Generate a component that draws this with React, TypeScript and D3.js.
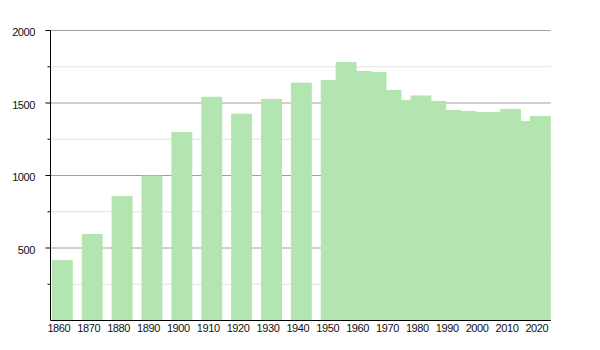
import React from "react";
import * as d3 from "d3";

const years = [1860, 1870, 1880, 1890, 1900, 1910, 1920, 1930, 1940, 1950, 1955, 1960, 1965, 1970, 1975, 1980, 1985, 1990, 1995, 2000, 2005, 2010, 2015, 2020];
const population = [417, 597, 859, 999, 1300, 1543, 1426, 1528, 1640, 1659, 1783, 1721, 1714, 1590, 1521, 1552, 1514, 1452, 1445, 1438, 1438, 1459, 1376, 1410];
const xTickYears = [1860, 1870, 1880, 1890, 1900, 1910, 1920, 1930, 1940, 1950, 1960, 1970, 1980, 1990, 2000, 2010, 2020];
const yMajorTicks = [500, 1000, 1500, 2000];
const yMinorTicks = [250, 750, 1250, 1750];

const W = 600;
const H = 350;
const BAR_HALF = 3.5;

export default function App() {
  const x = d3.scaleLinear().domain([1860, 2020]).range([62.35, 540.35]);
  const y = d3.scaleLinear().domain([0, 2000]).range([320.5, 30.5]);
  const left = 50.5;
  const right = x(2020 + BAR_HALF);
  const font = "'Liberation Sans', Arial, Helvetica, sans-serif";

  return (
    <svg width={W} height={H} style={{ position: "absolute", left: 0, top: 0 }}>
      <rect width={W} height={H} fill="#ffffff" />
      {yMinorTicks.map((t) => (
        <line key={"mg" + t} x1={left} x2={right} y1={y(t)} y2={y(t)} stroke="#e2e2e2" strokeWidth={1} />
      ))}
      {yMajorTicks.map((t) => (
        <line key={"Mg" + t} x1={left} x2={right} y1={y(t)} y2={y(t)} stroke="#a0a0a0" strokeWidth={1} />
      ))}
      {years.map((yr, i) => (
        <rect
          key={yr}
          x={x(yr - BAR_HALF)}
          width={x(yr + BAR_HALF) - x(yr - BAR_HALF)}
          y={y(population[i])}
          height={y(0) - y(population[i])}
          fill="#b3e5b1"
        />
      ))}
      <line x1={left} x2={left} y1={y(2000)} y2={y(0)} stroke="#000" strokeWidth={1} />
      <line x1={left} x2={right} y1={y(0)} y2={y(0)} stroke="#000" strokeWidth={1} />
      {yMajorTicks.map((t) => (
        <g key={"Mt" + t}>
          <line x1={left - 5} x2={left} y1={y(t)} y2={y(t)} stroke="#000" strokeWidth={1} />
          <text x={35} y={y(t)} dy="0.5em" textAnchor="end" fontFamily={font} fontSize={11} letterSpacing={-0.4} fill="#111">
            {t}
          </text>
        </g>
      ))}
      {yMinorTicks.map((t) => (
        <line key={"mt" + t} x1={left - 3} x2={left} y1={y(t)} y2={y(t)} stroke="#000" strokeWidth={1} />
      ))}
      {xTickYears.map((yr) => (
        <text key={"xl" + yr} x={x(yr) - 3.5} y={332} textAnchor="middle" fontFamily={font} fontSize={11} letterSpacing={-0.4} fill="#111">
          {yr}
        </text>
      ))}
    </svg>
  );
}
